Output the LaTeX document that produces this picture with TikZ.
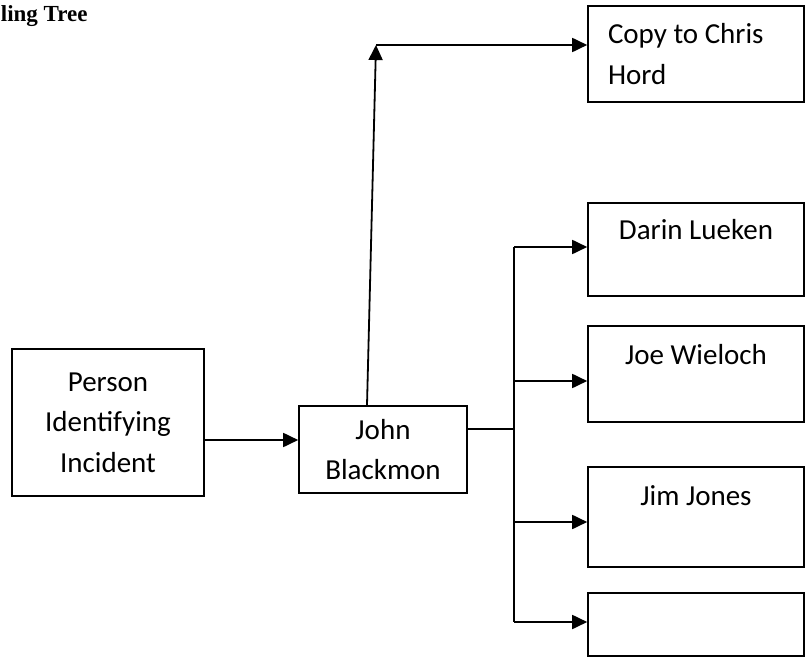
\documentclass[tikz,border=0pt]{standalone}
\usepackage{fontspec}
\setmainfont{Carlito}
\newfontfamily\titlefont{Liberation Serif}
\usetikzlibrary{arrows.meta,positioning}

\tikzset{
  box/.style={draw,line width=1.6pt,inner sep=0pt,minimum width=216pt,font=\fontsize{29}{40.5}\selectfont},
  arr/.style={line width=1.8pt,-{Triangle[length=15pt,width=14pt]}},
}

\begin{document}
\begin{tikzpicture}[x=1pt,y=-1pt,on grid,line width=1.8pt]
        \useasboundingbox (0,0) rectangle (808,663);
        \node[anchor=base west,inner sep=0pt,font=\titlefont\bfseries\fontsize{23}{27}\selectfont] (title) at (0,22) {ling Tree};

        \node[box,minimum width=192pt,minimum height=147pt,align=center] (person) at (108,422.5) {Person\\Identifying\\Incident};
        \node[box,minimum width=168pt,minimum height=87pt,align=center] (john) [below right=27pt and 275pt of person] {John\\Blackmon};
        \node[box,text height=36pt,text depth=57pt] (darin) at (696,249.5) {Darin Lueken};
        \node[box,text height=38pt,text depth=58pt] (joe) [below=124.5pt of darin] {Joe Wieloch};
        \node[box,text height=38pt,text depth=62pt] (jim) [below=143pt of joe] {Jim Jones};
        \node[box,minimum height=63pt] (empty) [below=107.5pt of jim] {};
        \node[box,minimum height=96pt,text width=176pt,align=flush left] (copy) [above=195.5pt of darin] {Copy to Chris\\Hord};

        \coordinate (corner) at (376,45);
        \coordinate (split) at (514,429);

        \draw[arr] ([yshift=9.5pt]john.west -| person.east) -- ([yshift=9.5pt]john.west);
        \draw[arr] ([xshift=-16pt]john.north) -- (corner);
        \draw[arr] (corner) -- (corner -| copy.west);
        \draw ([yshift=20.5pt]john.east) -- (split);
        \draw ([yshift=2.5pt]darin.west -| split) -- ([yshift=2.5pt]empty.west -| split);
        \foreach \n/\s in {darin/2.5,joe/-7,jim/-5,empty/2.5}
            \draw[arr] ([yshift=\s pt]\n.west -| split) -- ([yshift=\s pt]\n.west);
\end{tikzpicture}
\end{document}
